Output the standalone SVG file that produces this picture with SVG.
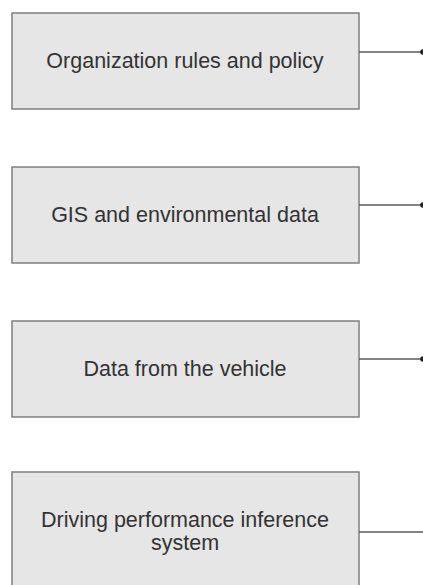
<svg xmlns="http://www.w3.org/2000/svg" width="423" height="585" viewBox="0 0 423 585">
  <defs>
    <style>
      .box { fill: #e6e6e6; stroke: #7f7f7f; stroke-width: 1.5; }
      .label { font-family: "Liberation Sans", Arial, sans-serif; font-size: 21.5px; fill: #333333; text-anchor: middle; }
      .link { stroke: #5a5a5a; stroke-width: 1.5; fill: none; }
      .tip { fill: #222222; }
    </style>
  </defs>
  <rect width="423" height="585" fill="#ffffff"/>

  <g id="node-org-rules">
    <rect class="box" x="12" y="13" width="347" height="96"/>
    <text class="label" x="185" y="68">Organization rules and policy</text>
  </g>

  <g id="node-gis">
    <rect class="box" x="12" y="167" width="347" height="96"/>
    <text class="label" x="185" y="222">GIS and environmental data</text>
  </g>

  <g id="node-vehicle">
    <rect class="box" x="12" y="321" width="347" height="96"/>
    <text class="label" x="185" y="376">Data from the vehicle</text>
  </g>

  <g id="node-inference">
    <rect class="box" x="12" y="472" width="347" height="140"/>
    <text class="label" x="185" y="527">Driving performance inference</text>
    <text class="label" x="185" y="549.5">system</text>
  </g>

  <g id="connectors">
    <line class="link" x1="359" y1="52" x2="423" y2="52"/>
    <circle class="tip" cx="423" cy="52" r="2.8"/>
    <line class="link" x1="359" y1="205" x2="423" y2="205"/>
    <circle class="tip" cx="423" cy="205" r="2.8"/>
    <line class="link" x1="359" y1="359" x2="423" y2="359"/>
    <circle class="tip" cx="423" cy="359" r="2.8"/>
    <line class="link" x1="359" y1="532" x2="423" y2="532"/>
  </g>
</svg>
